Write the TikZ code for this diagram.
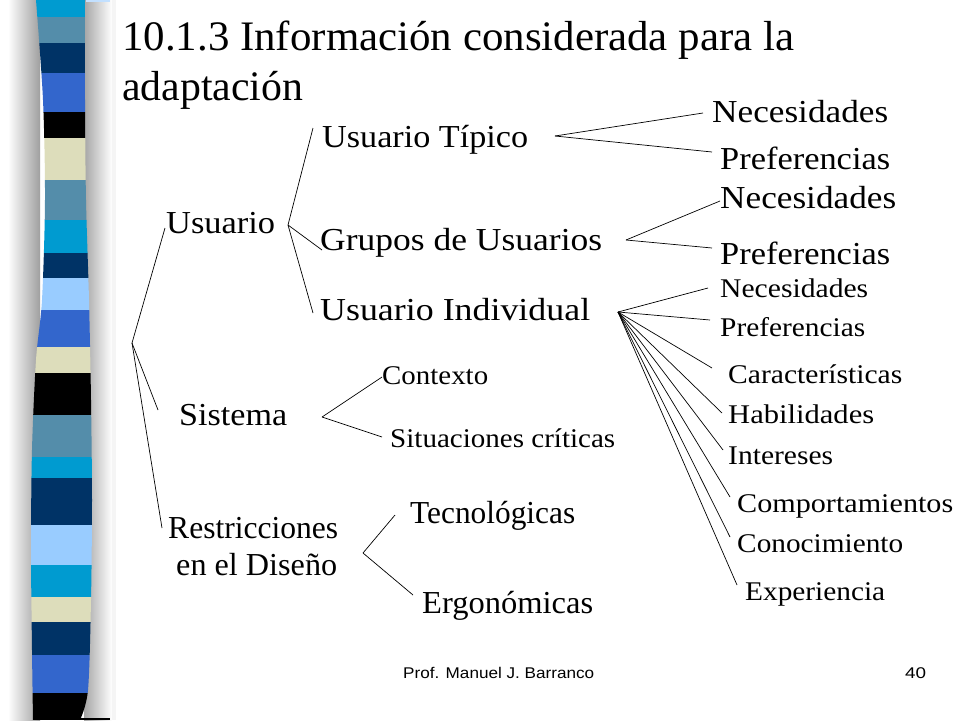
\documentclass[tikz,border=0pt]{standalone}
\usepackage{fontspec}
\setmainfont{Liberation Serif}
\newfontfamily\footfont{Liberation Sans}
\usepackage{graphicx}
\usetikzlibrary{calc}
\newcommand{\fitw}[2]{\resizebox{#1pt}{\height}{#2}}
\definecolor{bcyan}{RGB}{0,155,208}
\definecolor{bsteel}{RGB}{84,141,170}
\definecolor{bnavy}{RGB}{0,51,102}
\definecolor{broyal}{RGB}{51,102,204}
\definecolor{bbeige}{RGB}{221,221,187}
\definecolor{blight}{RGB}{153,204,255}
\tikzset{
  lbl/.style={inner sep=0pt, anchor=base west, font=\fontsize{32}{38}\selectfont},
  slbl/.style={inner sep=0pt, anchor=base west, font=\fontsize{27}{32}\selectfont},
  ttl/.style={inner sep=0pt, anchor=base west, font=\fontsize{42}{48}\selectfont},
  foot/.style={inner sep=0pt, anchor=base west, font=\footfont\fontsize{15.5}{18}\selectfont},
  link/.style={line width=0.7pt, black},
}
\begin{document}
\begin{tikzpicture}[x=1pt,y=-1pt]
\useasboundingbox (0,0) rectangle (960,720);
\fill[white] (0,0) rectangle (960,720);
% shadows around the stripe
\shade[left color=white, right color=gray!75] (8,0) rectangle (40,720);
\shade[left color=gray!70, right color=white] (84,0) rectangle (112,720);
\fill[gray!8] (112,0) rectangle (116,720);
% stripe
\begin{scope}
\clip plot[smooth] coordinates {(36,0) (43,100) (45,200) (42,300) (36,360) (32,450) (31,550) (32,650) (33,720)}
  -- plot[smooth] coordinates {(80,720) (88,690) (91,600) (92,500) (91,400) (89,300) (86,200) (85,100) (85,0)} -- cycle;
\foreach \ya/\yb/\c in {0/17/bcyan,17/43/bsteel,43/73/bnavy,73/112/broyal,112/138/black,138/180/bbeige,
  180/220/bsteel,220/253/bcyan,253/278/bnavy,278/310/blight,310/347/broyal,347/373/bbeige,373/415/black,
  415/457/bsteel,457/478/bcyan,478/525/bnavy,525/565/blight,565/597/bcyan,597/622/bbeige,622/655/bnavy,
  655/693/broyal,693/720/black}
  \fill[\c] (20,\ya) rectangle (100,\yb);
\end{scope}
\fill[black] (80,717.5) rectangle (110,720);
\fill[blight!60] (86,0) rectangle (110,1.5);
% title
\node[ttl] (t1) at (122,50) {\fitw{672}{10.1.3 Información considerada para la}};
\node[ttl] (t2) at (122,100) {\fitw{181}{adaptación}};
% level 1
\node[lbl] (usuario) at (166,233) {\fitw{109}{Usuario}};
\node[lbl] (sistema) at (179,425) {\fitw{108}{Sistema}};
\node[lbl] (restr) at (168,538) {\fitw{170}{Restricciones}};
\node[lbl] (diseno) at (176,575) {\fitw{161}{en el Diseño}};
% level 2
\node[lbl] (utip) at (322,147) {\fitw{206}{Usuario Típico}};
\node[lbl] (grupos) at (320,250) {\fitw{282}{Grupos de Usuarios}};
\node[lbl] (indiv) at (320,320) {\fitw{270}{Usuario Individual}};
\node[slbl] (contexto) at (382,384) {\fitw{106}{Contexto}};
\node[slbl] (situ) at (390,447) {\fitw{225}{Situaciones críticas}};
\node[lbl] (tecno) at (410,523) {\fitw{165}{Tecnológicas}};
\node[lbl] (ergo) at (422,613) {\fitw{171}{Ergonómicas}};
% level 3
\node[lbl] (nec1) at (712,122) {\fitw{176}{Necesidades}};
\node[lbl] (pref1) at (720,169) {\fitw{170}{Preferencias}};
\node[lbl] (nec2) at (720,208) {\fitw{176}{Necesidades}};
\node[lbl] (pref2) at (720,264) {\fitw{170}{Preferencias}};
\node[slbl] (nec3) at (720,297) {\fitw{148}{Necesidades}};
\node[slbl] (pref3) at (720,336) {\fitw{145}{Preferencias}};
\node[slbl] (carac) at (728,383) {\fitw{174}{Características}};
\node[slbl] (habil) at (728,423) {\fitw{146}{Habilidades}};
\node[slbl] (inter) at (728,464) {\fitw{105}{Intereses}};
\node[slbl] (compo) at (737,512) {\fitw{216}{Comportamientos}};
\node[slbl] (conoc) at (737,552) {\fitw{166}{Conocimiento}};
\node[slbl] (exper) at (745,600) {\fitw{140}{Experiencia}};
% footer
\node[foot] (autor) at (403,678) {\fitw{191}{Prof. Manuel J. Barranco}};
\node[foot] (pagina) at (905,678) {\fitw{21}{40}};
% connector points
\coordinate (froot) at (132,343);
\coordinate (a-usuario) at (165,228);
\coordinate (a-sistema) at (158,410);
\coordinate (a-restr) at (162,528);
\coordinate (fusu) at (288,225);
\coordinate (a-utip) at (313,128);
\coordinate (a-grupos) at (322,250);
\coordinate (a-indiv) at (313,313);
\coordinate (futip) at (555,136);
\coordinate (a-nec1) at (703,113);
\coordinate (a-pref1) at (712,152);
\coordinate (fgrup) at (626,240);
\coordinate (a-nec2) at (720,201);
\coordinate (a-pref2) at (712,248);
\coordinate (find) at (618,312);
\coordinate (a-nec3) at (708,288);
\coordinate (a-pref3) at (710,320);
\coordinate (a-carac) at (712,368);
\coordinate (a-habil) at (722,413);
\coordinate (a-inter) at (723,450);
\coordinate (a-compo) at (730,497);
\coordinate (a-conoc) at (730,537);
\coordinate (a-exper) at (737,585);
\coordinate (fsis) at (322,417);
\coordinate (a-contexto) at (382,377);
\coordinate (a-situ) at (382,437);
\coordinate (fres) at (363,553);
\coordinate (a-tecno) at (395,515);
\coordinate (a-ergo) at (413,595);
% connectors
\foreach \t in {usuario,sistema,restr} \draw[link] (froot) -- (a-\t);
\foreach \t in {utip,grupos,indiv} \draw[link] (fusu) -- (a-\t);
\foreach \t in {nec1,pref1} \draw[link] (futip) -- (a-\t);
\foreach \t in {nec2,pref2} \draw[link] (fgrup) -- (a-\t);
\foreach \t in {nec3,pref3,carac,habil,inter,compo,conoc,exper} \draw[link] (find) -- (a-\t);
\foreach \t in {contexto,situ} \draw[link] (fsis) -- (a-\t);
\foreach \t in {tecno,ergo} \draw[link] (fres) -- (a-\t);
\end{tikzpicture}
\end{document}
